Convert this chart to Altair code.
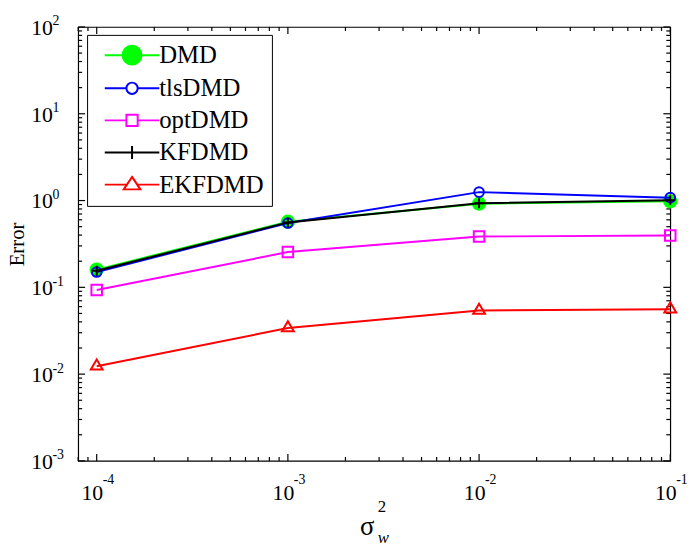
import altair as alt
import pandas as pd

# ---- data ----
sigma_w2 = [1e-4, 1e-3, 1e-2, 1e-1]
series_names = ["DMD", "tlsDMD", "optDMD", "KFDMD", "EKFDMD"]
err_dmd = [0.160, 0.57, 0.92, 0.98]
err_tls = [0.150, 0.55, 1.25, 1.08]
err_opt = [0.093, 0.255, 0.385, 0.395]
err_kf = [0.155, 0.56, 0.93, 1.01]
err_ekf = [0.0123, 0.034, 0.054, 0.056]

x_major = [1e-4, 1e-3, 1e-2, 1e-1]
x_exp_labels = ["-4", "-3", "-2", "-1"]
x_minor = [8e-5, 9e-5] + [k * 10.0 ** e for e in (-4, -3, -2) for k in range(2, 10)]
y_major = [1e-3, 1e-2, 1e-1, 1.0, 10.0, 100.0]
y_exp_labels = ["-3", "-2", "-1", "0", "1", "2"]
y_minor = [k * 10.0 ** e for e in (-3, -2, -1, 0, 1) for k in range(2, 10)]

# ---- style ----
W, H = 599, 439
FONT = "Liberation Serif"
colors = ["#00ff00", "#0000ff", "#ff00ff", "#000000", "#ff0000"]
fills = ["#00ff00", "transparent", "transparent", "transparent", "transparent"]
marker_shapes = [
    "circle",
    "circle",
    "square",
    "M-1,0H1M0,-1V1",
    "M0,-1.15L1,0.55H-1Z",
]
marker_sizes = [210, 94, 114, 100, 144]
marker_filled = [True, False, False, False, False]
legend_paths = [
    "M-4.6,0H4.6M1.6,0A1.6,1.6 0 1,1 -1.6,0A1.6,1.6 0 1,1 1.6,0Z",
    "M-4.6,0H-0.95M0.95,0H4.6M0.95,0A0.95,0.95 0 1,1 -0.95,0A0.95,0.95 0 1,1 0.95,0Z",
    "M-4.6,0H-0.95M0.95,0H4.6M-0.95,-0.95H0.95V0.95H-0.95Z",
    "M-4.6,0H4.6M0,-1.1V1.1",
    "M-4.6,0H-0.9M0.9,0H4.6M0,-1.3L1.4,0.8H-1.4Z",
]

xs = alt.Scale(type="log", domain=[8e-5, 0.1], nice=False)
ys = alt.Scale(type="log", domain=[1e-3, 100.0], nice=False)

rows = []
for name, vals in zip(series_names, [err_dmd, err_tls, err_opt, err_kf, err_ekf]):
    for xv, yv in zip(sigma_w2, vals):
        rows.append({"series": name, "sigma": xv, "err": yv})
df = pd.DataFrame(rows)

# ---- axes: mantissa "10" on the axes, exponents as text marks ----
AX = alt.Axis(orient="bottom", values=x_major, labelExpr="'10'", labelFont=FONT,
              labelFontSize=22, labelFontWeight="normal",
              labelColor="black", labelAlign="center",
              labelBaseline="alphabetic", labelPadding=39, labelOffset=-5,
              labelFlush=False, labelOverlap=False,
              ticks=False, tickSize=0, domain=False, grid=False,
              title="σ", titleFont=FONT, titleFontSize=27, titleFontWeight="normal",
              titleColor="black", titleX=292, titleY=74, titleAlign="center",
              titleBaseline="alphabetic")
AY = alt.Axis(orient="left", values=y_major, labelExpr="'10'", labelFont=FONT,
              labelFontSize=22, labelFontWeight="normal",
              labelColor="black", labelAlign="right",
              labelBaseline="alphabetic", labelPadding=26, labelOffset=7.5,
              labelFlush=False, labelOverlap=False,
              ticks=False, tickSize=0, domain=False, grid=False,
              minExtent=48, maxExtent=48,
              title="Error", titleFont=FONT, titleFontSize=21, titleFontWeight="normal",
              titleColor="black", titlePadding=3)

def X(field):
    return alt.X(field, scale=xs, axis=AX)

def Y(field):
    return alt.Y(field, scale=ys, axis=AY)

layers = []

# inward ticks on all four sides
def xticks(vals, length):
    d = pd.DataFrame({"v": vals})
    bot = alt.Chart(d).mark_rule(color="black", strokeWidth=1.2).encode(
        x=X("v:Q"), y=alt.value(H), y2=alt.value(H - length))
    top = alt.Chart(d).mark_rule(color="black", strokeWidth=1.2).encode(
        x=X("v:Q"), y=alt.value(0), y2=alt.value(length))
    return [bot, top]

def yticks(vals, length):
    d = pd.DataFrame({"v": vals})
    left = alt.Chart(d).mark_rule(color="black", strokeWidth=1.2).encode(
        y=Y("v:Q"), x=alt.value(0), x2=alt.value(length))
    right = alt.Chart(d).mark_rule(color="black", strokeWidth=1.2).encode(
        y=Y("v:Q"), x=alt.value(W), x2=alt.value(W - length))
    return [left, right]

layers += xticks(x_major, 7)
layers += xticks(x_minor, 4)
layers += yticks(y_major, 7)
layers += yticks(y_minor, 4)

# exponent labels
x_exp = alt.Chart(pd.DataFrame({"v": x_major, "t": x_exp_labels})).mark_text(
    font=FONT, fontSize=14, fontWeight="normal", align="left", baseline="alphabetic",
    color="black", dx=6).encode(
    x=X("v:Q"), y=alt.value(H + 23), text="t:N")
y_exp = alt.Chart(pd.DataFrame({"v": y_major, "t": y_exp_labels})).mark_text(
    font=FONT, fontSize=14, fontWeight="normal", align="left", baseline="alphabetic",
    color="black", dy=-1.5).encode(
    y=Y("v:Q"), x=alt.value(-26), text="t:N")
layers += [x_exp, y_exp]

# series lines + markers
for i, name in enumerate(series_names):
    base = alt.Chart(df).transform_filter(alt.datum.series == name)
    line = base.mark_line(color=colors[i], strokeWidth=2).encode(x=X("sigma:Q"), y=Y("err:Q"))
    if marker_filled[i]:
        pts = base.mark_point(shape=marker_shapes[i], size=marker_sizes[i], filled=True,
                              color=colors[i], opacity=1, strokeWidth=0)
    else:
        pts = base.mark_point(shape=marker_shapes[i], size=marker_sizes[i], filled=False,
                              color=colors[i], opacity=1, strokeWidth=2)
    pts = pts.encode(x=X("sigma:Q"), y=Y("err:Q"))
    layers += [line, pts]

# legend (from an empty layer carrying the series scales)
leg = alt.Legend(title=None, orient="none", legendX=9, legendY=8,
                 labelFont=FONT, labelFontSize=25, labelFontWeight="normal",
                 labelColor="black", labelLimit=400,
                 symbolSize=144, symbolStrokeWidth=2, symbolOpacity=1,
                 symbolOffset=25, labelOffset=15,
                 strokeColor="black", fillColor="white", padding=8, rowPadding=6.5)
legend_layer = alt.Chart(df).transform_filter("false").mark_point(opacity=1, strokeWidth=2).encode(
    x=X("sigma:Q"),
    y=Y("err:Q"),
    shape=alt.Shape("series:N", scale=alt.Scale(domain=series_names, range=legend_paths), legend=leg),
    stroke=alt.Stroke("series:N", scale=alt.Scale(domain=series_names, range=colors), legend=leg),
    fill=alt.Fill("series:N", scale=alt.Scale(domain=series_names, range=fills), legend=leg),
)
layers.append(legend_layer)

# sub/superscript of the x title
sup = alt.Chart(pd.DataFrame({"t": ["2"]})).mark_text(
    font=FONT, fontSize=17, align="left", baseline="alphabetic", color="black").encode(
    text="t:N", x=alt.value(303), y=alt.value(491))
sub = alt.Chart(pd.DataFrame({"t": ["w"]})).mark_text(
    font=FONT, fontSize=17, fontStyle="italic", align="left", baseline="alphabetic",
    color="black").encode(text="t:N", x=alt.value(303), y=alt.value(522))
layers += [sup, sub]

chart = alt.layer(*layers).properties(
    width=W, height=H,
    autosize=alt.AutoSizeParams(type="none"),
    padding={"left": 71, "top": 16, "right": 22, "bottom": 92},
).configure_view(stroke="black", strokeWidth=1.2)

chart.save("out.html", embed_options={"renderer": "svg", "actions": False})
